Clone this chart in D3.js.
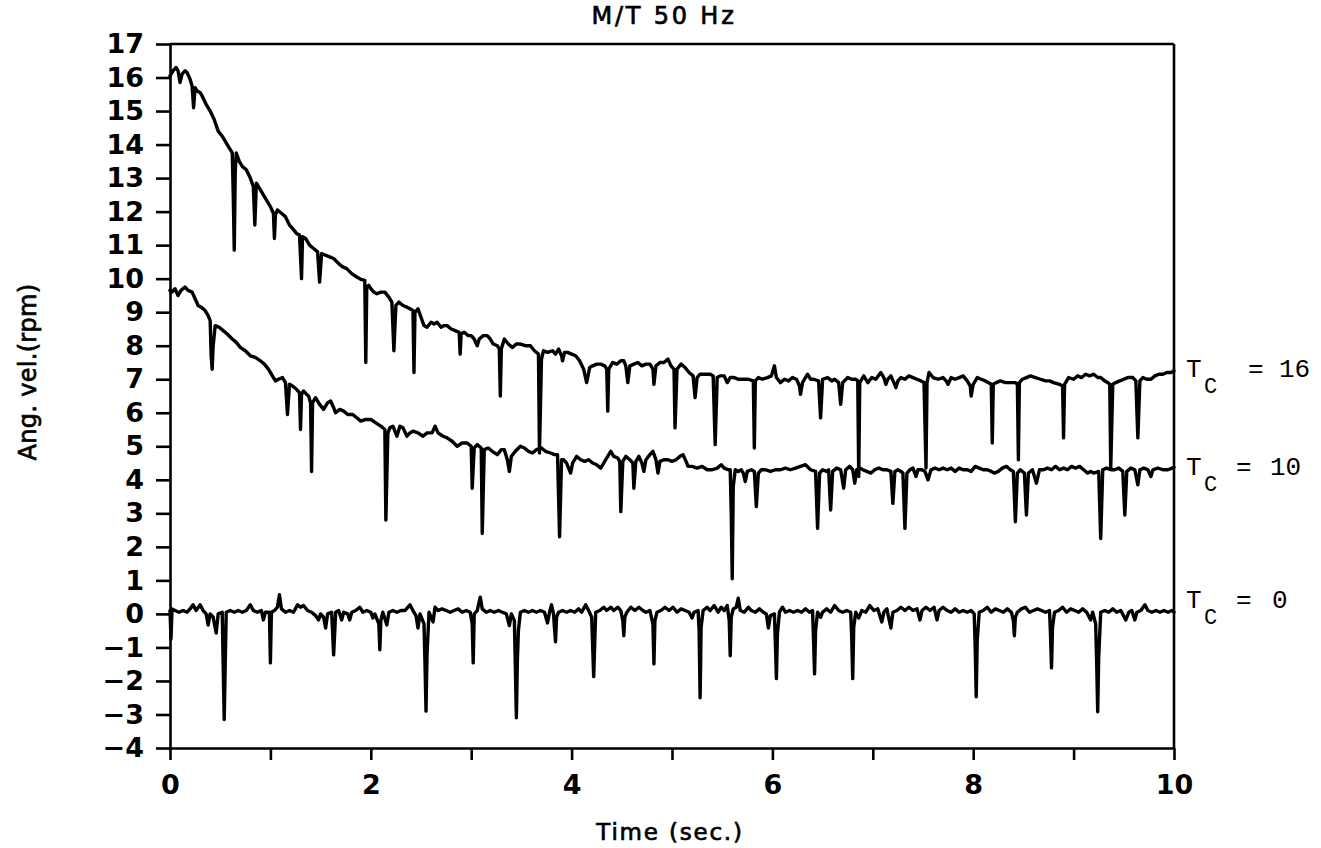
<!DOCTYPE html>
<html>
<head>
<meta charset="utf-8">
<script src="https://cdn.jsdelivr.net/npm/d3@7"></script>
<style>
  html, body { margin: 0; padding: 0; background: #fff; }
  svg { display: block; }
  .lbl { font-family: "DejaVu Sans", sans-serif; fill: #000; stroke: #000; stroke-width: 0.7px; }
  .tc { font-family: "Liberation Mono", "Courier New", monospace; fill: #000; }
</style>
</head>
<body>
<svg id="chart" width="1321" height="848"></svg>
<script>
// Angular velocity traces (rpm) against time (s) for three coupling torques
const seriesNames = ["Tc = 16", "Tc = 10", "Tc = 0"];

const tc16 = [
  [0.00,16.05],[0.03,16.2],[0.06,16.3],[0.08,16.2],[0.10,15.85],[0.12,16.1],[0.15,16.2],[0.17,16.15],[0.20,15.95],[0.22,15.75],
  [0.235,15.1],[0.25,15.7],[0.27,15.6],[0.30,15.55],[0.32,15.45],[0.36,15.2],[0.40,15.0],[0.44,14.75],[0.48,14.4],[0.52,14.25],
  [0.57,14.0],[0.62,13.75],[0.63,12.5],[0.64,10.85],[0.65,13.2],[0.66,13.75],[0.69,13.5],[0.72,13.35],[0.76,13.25],[0.80,13.0],
  [0.83,12.75],[0.845,11.6],[0.86,12.85],[0.89,12.7],[0.93,12.5],[0.97,12.3],[1.00,12.15],[1.03,11.95],[1.04,11.2],[1.05,11.9],
  [1.07,12.05],[1.11,11.95],[1.15,11.85],[1.19,11.6],[1.22,11.5],[1.26,11.35],[1.29,11.3],[1.31,10.0],[1.32,11.25],[1.35,11.2],
  [1.39,11.0],[1.43,10.9],[1.47,10.8],[1.49,9.9],[1.51,10.75],[1.55,10.7],[1.59,10.65],[1.63,10.6],[1.68,10.45],[1.72,10.35],
  [1.76,10.3],[1.81,10.15],[1.86,10.05],[1.90,9.98],[1.94,9.95],[1.95,7.5],[1.96,9.75],[1.98,9.8],[2.00,9.7],[2.03,9.6],
  [2.06,9.55],[2.10,9.6],[2.14,9.6],[2.18,9.45],[2.21,9.3],[2.23,7.85],[2.25,9.2],[2.28,9.3],[2.32,9.2],[2.36,9.15],
  [2.39,9.1],[2.42,9.05],[2.43,7.2],[2.44,9.0],[2.47,9.1],[2.50,8.85],[2.53,8.6],[2.56,8.55],[2.60,8.7],[2.63,8.65],
  [2.66,8.7],[2.70,8.55],[2.73,8.6],[2.76,8.6],[2.80,8.5],[2.84,8.45],[2.88,8.4],[2.89,7.75],[2.90,8.35],[2.93,8.4],
  [2.97,8.3],[3.00,8.3],[3.03,8.2],[3.06,8.0],[3.08,8.2],[3.12,8.3],[3.16,8.3],[3.19,8.2],[3.22,8.05],[3.26,8.0],
  [3.28,7.9],[3.29,6.5],[3.30,7.9],[3.33,8.2],[3.37,8.05],[3.41,7.95],[3.45,8.05],[3.49,8.05],[3.54,8.0],[3.59,8.0],
  [3.63,7.85],[3.67,7.75],[3.68,4.8],[3.70,7.6],[3.72,7.85],[3.76,7.8],[3.81,7.85],[3.84,7.75],[3.87,7.9],[3.90,7.7],
  [3.91,7.55],[3.93,7.8],[3.96,7.8],[4.00,7.75],[4.04,7.7],[4.08,7.55],[4.12,7.3],[4.15,6.9],[4.18,7.35],[4.21,7.4],
  [4.25,7.45],[4.29,7.45],[4.33,7.4],[4.35,7.3],[4.36,6.05],[4.37,7.3],[4.41,7.5],[4.45,7.45],[4.49,7.55],[4.52,7.55],
  [4.54,7.4],[4.56,6.9],[4.58,7.4],[4.62,7.45],[4.66,7.5],[4.70,7.4],[4.74,7.45],[4.78,7.45],[4.81,7.3],[4.82,6.85],
  [4.84,7.4],[4.88,7.5],[4.92,7.5],[4.96,7.6],[4.99,7.4],[5.02,7.3],[5.03,5.55],[5.05,7.3],[5.09,7.45],[5.13,7.35],
  [5.17,7.2],[5.21,7.1],[5.23,6.45],[5.25,7.05],[5.28,7.15],[5.33,7.15],[5.38,7.15],[5.41,7.1],[5.43,5.05],[5.45,7.05],
  [5.48,7.1],[5.52,7.1],[5.55,6.9],[5.58,7.05],[5.62,7.05],[5.66,7.0],[5.71,7.0],[5.76,7.0],[5.81,6.95],[5.82,4.95],
  [5.83,6.95],[5.86,7.05],[5.90,7.0],[5.95,7.05],[5.99,7.1],[6.02,7.4],[6.04,7.05],[6.08,6.9],[6.12,7.0],[6.16,6.95],
  [6.20,7.05],[6.24,7.0],[6.27,6.8],[6.28,6.55],[6.30,6.9],[6.35,7.15],[6.38,7.0],[6.41,7.0],[6.46,6.95],[6.48,5.85],
  [6.50,7.0],[6.55,7.05],[6.59,6.95],[6.62,7.0],[6.66,6.9],[6.68,6.25],[6.70,6.9],[6.75,7.05],[6.79,7.0],[6.83,7.0],
  [6.85,6.95],[6.86,4.1],[6.87,6.9],[6.91,7.1],[6.95,6.9],[6.99,7.05],[7.03,7.0],[7.08,7.2],[7.11,7.05],[7.13,6.85],
  [7.15,7.0],[7.18,7.1],[7.21,6.9],[7.23,6.75],[7.25,6.95],[7.28,7.05],[7.32,7.0],[7.36,7.1],[7.40,7.05],[7.44,7.0],
  [7.48,6.95],[7.51,6.9],[7.53,4.35],[7.54,6.9],[7.56,7.2],[7.60,7.05],[7.65,7.0],[7.70,7.05],[7.73,6.95],[7.75,6.85],
  [7.78,7.05],[7.82,7.0],[7.86,7.05],[7.90,7.1],[7.94,6.95],[7.97,6.8],[7.98,6.5],[8.00,6.85],[8.04,7.05],[8.08,7.0],
  [8.12,6.95],[8.15,6.9],[8.18,6.85],[8.19,5.1],[8.20,6.85],[8.23,6.9],[8.27,6.95],[8.32,6.9],[8.37,6.9],[8.42,6.9],
  [8.44,6.85],[8.45,4.6],[8.46,6.9],[8.49,7.0],[8.53,7.05],[8.57,7.1],[8.62,7.05],[8.67,7.0],[8.72,6.95],[8.76,6.95],
  [8.80,6.9],[8.86,6.85],[8.89,6.8],[8.90,5.25],[8.91,6.85],[8.95,7.05],[9.00,7.0],[9.04,7.1],[9.08,7.05],[9.12,7.15],
  [9.16,7.1],[9.20,7.15],[9.24,7.05],[9.27,7.05],[9.31,6.95],[9.34,6.9],[9.36,6.85],[9.37,4.35],[9.39,6.85],[9.42,6.9],
  [9.46,6.95],[9.50,7.0],[9.54,7.05],[9.59,7.05],[9.62,6.95],[9.64,5.25],[9.66,6.95],[9.69,7.05],[9.73,7.0],[9.77,7.0],
  [9.81,7.1],[9.85,7.15],[9.89,7.15],[9.93,7.2],[9.97,7.2],[10.0,7.25]
];

const tc10 = [
  [0.00,9.65],[0.02,9.6],[0.05,9.7],[0.08,9.5],[0.11,9.65],[0.15,9.75],[0.18,9.65],[0.22,9.6],[0.25,9.4],[0.28,9.2],
  [0.31,9.15],[0.35,9.05],[0.38,8.9],[0.40,8.75],[0.41,7.7],[0.42,7.3],[0.43,8.0],[0.45,8.6],[0.49,8.55],[0.53,8.45],
  [0.57,8.35],[0.62,8.2],[0.66,8.1],[0.70,7.95],[0.75,7.85],[0.80,7.7],[0.85,7.65],[0.90,7.55],[0.94,7.45],[0.98,7.3],
  [1.02,7.1],[1.05,6.95],[1.08,7.0],[1.12,7.05],[1.15,6.9],[1.17,5.95],[1.19,6.85],[1.22,6.8],[1.26,6.7],[1.29,6.6],
  [1.30,5.5],[1.31,6.55],[1.33,6.65],[1.36,6.55],[1.38,6.5],[1.40,6.3],[1.41,4.25],[1.42,6.3],[1.45,6.45],[1.49,6.25],
  [1.53,6.1],[1.57,6.3],[1.60,6.35],[1.63,6.15],[1.65,6.0],[1.69,6.1],[1.73,6.05],[1.77,5.95],[1.82,5.95],[1.86,5.85],
  [1.90,5.75],[1.95,5.8],[2.00,5.8],[2.05,5.7],[2.10,5.6],[2.14,5.5],[2.15,2.8],[2.17,5.4],[2.19,5.55],[2.22,5.6],
  [2.26,5.3],[2.29,5.6],[2.32,5.55],[2.36,5.3],[2.39,5.4],[2.42,5.45],[2.47,5.4],[2.52,5.3],[2.56,5.4],[2.61,5.4],
  [2.64,5.6],[2.67,5.4],[2.72,5.3],[2.76,5.25],[2.81,5.15],[2.86,5.0],[2.91,5.1],[2.96,5.1],[3.00,5.0],[3.01,3.75],
  [3.03,4.95],[3.06,5.05],[3.10,4.95],[3.11,2.4],[3.13,4.9],[3.17,4.95],[3.21,4.85],[3.26,4.75],[3.30,4.9],[3.33,4.9],
  [3.36,4.6],[3.38,4.25],[3.40,4.7],[3.44,4.85],[3.49,5.0],[3.53,4.95],[3.57,4.85],[3.61,4.8],[3.65,4.9],[3.70,4.95],
  [3.74,4.85],[3.79,4.8],[3.83,4.75],[3.86,4.75],[3.88,2.3],[3.90,4.6],[3.92,4.6],[3.95,4.5],[3.97,4.35],[3.99,4.2],
  [4.01,4.5],[4.05,4.7],[4.09,4.6],[4.13,4.55],[4.17,4.6],[4.21,4.5],[4.25,4.45],[4.29,4.35],[4.33,4.55],[4.37,4.75],
  [4.39,4.85],[4.42,4.7],[4.46,4.65],[4.48,4.55],[4.49,3.05],[4.51,4.55],[4.54,4.7],[4.58,4.6],[4.61,4.5],[4.62,3.75],
  [4.64,4.55],[4.67,4.7],[4.70,4.5],[4.72,4.25],[4.74,4.6],[4.78,4.75],[4.81,4.85],[4.84,4.6],[4.86,4.2],[4.88,4.55],
  [4.92,4.6],[4.96,4.6],[5.00,4.55],[5.04,4.6],[5.08,4.7],[5.11,4.75],[5.14,4.55],[5.16,4.4],[5.20,4.4],[5.25,4.35],
  [5.30,4.4],[5.35,4.3],[5.40,4.3],[5.45,4.35],[5.49,4.45],[5.52,4.35],[5.56,4.3],[5.58,4.3],[5.59,3.0],[5.60,1.05],
  [5.61,3.8],[5.63,4.3],[5.66,4.25],[5.69,4.3],[5.71,4.2],[5.73,3.95],[5.75,4.25],[5.79,4.3],[5.82,4.25],[5.84,3.2],
  [5.86,4.2],[5.89,4.3],[5.93,4.3],[5.98,4.25],[6.03,4.3],[6.08,4.3],[6.13,4.35],[6.18,4.3],[6.23,4.35],[6.28,4.4],
  [6.33,4.45],[6.38,4.3],[6.43,4.25],[6.45,2.55],[6.47,4.2],[6.50,4.3],[6.54,4.25],[6.56,4.3],[6.58,3.1],[6.60,4.25],
  [6.64,4.35],[6.68,4.3],[6.71,3.75],[6.73,4.3],[6.77,4.4],[6.80,4.3],[6.82,3.9],[6.84,4.3],[6.87,4.35],[6.90,4.3],
  [6.94,4.25],[6.98,4.2],[7.02,4.3],[7.06,4.35],[7.10,4.3],[7.14,4.3],[7.18,4.25],[7.20,3.3],[7.22,4.25],[7.25,4.3],
  [7.28,4.25],[7.30,4.2],[7.32,2.55],[7.34,4.2],[7.37,4.3],[7.40,4.35],[7.43,4.1],[7.45,4.3],[7.49,4.3],[7.52,4.25],
  [7.55,4.0],[7.58,4.3],[7.62,4.35],[7.66,4.3],[7.70,4.35],[7.74,4.3],[7.78,4.35],[7.82,4.25],[7.86,4.35],[7.90,4.3],
  [7.94,4.3],[7.98,4.25],[8.02,4.4],[8.06,4.35],[8.10,4.3],[8.14,4.3],[8.18,4.25],[8.21,4.2],[8.25,4.25],[8.29,4.35],
  [8.33,4.4],[8.37,4.3],[8.40,4.25],[8.42,2.75],[8.44,4.2],[8.47,4.3],[8.51,4.2],[8.53,2.95],[8.55,4.2],[8.59,4.3],
  [8.63,3.9],[8.66,4.3],[8.70,4.3],[8.74,4.35],[8.78,4.3],[8.82,4.4],[8.86,4.3],[8.90,4.35],[8.94,4.3],[8.98,4.4],
  [9.02,4.35],[9.06,4.4],[9.10,4.3],[9.14,4.2],[9.17,4.25],[9.20,4.2],[9.25,4.25],[9.27,2.25],[9.29,4.3],[9.33,4.35],
  [9.37,4.3],[9.41,4.3],[9.45,4.35],[9.49,4.25],[9.51,2.95],[9.53,4.25],[9.57,4.35],[9.61,4.3],[9.64,3.85],[9.66,4.3],
  [9.70,4.35],[9.74,4.3],[9.77,4.1],[9.79,4.3],[9.84,4.35],[9.89,4.3],[9.94,4.3],[10.0,4.37]
];

const tc0 = [
  [0.00,0.1],[0.01,-0.75],[0.02,0.15],[0.05,0.1],[0.09,0.05],[0.13,0.1],[0.17,0.05],[0.20,0.15],[0.23,0.27],[0.26,0.1],
  [0.30,0.27],[0.33,0.1],[0.36,0.0],[0.38,-0.33],[0.40,0.0],[0.43,-0.1],[0.46,-0.57],[0.48,0.0],[0.52,0.05],[0.53,-1.6],
  [0.54,-3.15],[0.55,-1.5],[0.56,0.05],[0.60,0.1],[0.64,0.05],[0.68,0.1],[0.72,0.05],[0.76,0.1],[0.80,0.27],[0.83,0.1],
  [0.87,0.05],[0.91,0.1],[0.93,-0.18],[0.95,0.05],[0.99,0.05],[1.00,-1.46],[1.01,0.05],[1.04,0.1],[1.07,0.2],[1.09,0.57],
  [1.11,0.15],[1.15,0.05],[1.19,0.1],[1.23,0.05],[1.27,0.27],[1.30,0.2],[1.33,0.25],[1.37,0.1],[1.41,0.05],[1.45,-0.05],
  [1.48,-0.18],[1.50,0.0],[1.53,-0.1],[1.55,-0.42],[1.57,0.0],[1.61,0.05],[1.63,-1.22],[1.65,0.05],[1.68,0.1],[1.71,-0.18],
  [1.73,0.05],[1.77,0.0],[1.79,-0.18],[1.81,0.05],[1.85,0.1],[1.89,0.2],[1.92,0.05],[1.96,0.1],[2.00,0.05],[2.02,-0.12],
  [2.04,0.0],[2.08,-0.3],[2.09,-1.07],[2.10,-0.2],[2.12,0.05],[2.16,-0.33],[2.18,0.05],[2.22,0.1],[2.26,0.05],[2.30,0.1],
  [2.34,0.1],[2.39,0.27],[2.42,0.1],[2.45,-0.05],[2.47,-0.42],[2.49,0.0],[2.53,-0.3],[2.54,-1.5],[2.55,-2.9],[2.56,-1.2],
  [2.58,0.05],[2.62,-0.24],[2.64,0.2],[2.67,0.1],[2.71,0.15],[2.75,0.1],[2.79,0.05],[2.83,0.1],[2.87,0.15],[2.91,0.05],
  [2.95,0.1],[2.99,0.05],[3.01,-0.3],[3.02,-1.46],[3.03,0.0],[3.06,0.1],[3.09,0.5],[3.11,0.15],[3.15,0.05],[3.19,0.1],
  [3.23,0.05],[3.27,0.1],[3.31,0.05],[3.35,0.0],[3.38,-0.35],[3.40,0.0],[3.43,-0.2],[3.44,-1.6],[3.45,-3.1],[3.46,-1.4],
  [3.47,-0.5],[3.49,0.05],[3.53,0.1],[3.57,0.05],[3.61,0.1],[3.65,0.05],[3.69,0.1],[3.73,0.05],[3.76,-0.27],[3.78,0.05],
  [3.80,0.27],[3.82,0.0],[3.83,-0.45],[3.84,-0.83],[3.85,-0.1],[3.87,0.05],[3.91,0.1],[3.95,0.05],[3.99,0.1],[4.03,0.05],
  [4.07,0.15],[4.10,0.05],[4.14,0.27],[4.17,0.1],[4.20,-0.1],[4.21,-1.0],[4.22,-1.87],[4.23,-0.9],[4.24,0.05],[4.28,0.1],
  [4.32,0.2],[4.35,0.1],[4.39,0.2],[4.42,0.1],[4.46,0.2],[4.49,0.1],[4.51,-0.2],[4.52,-0.65],[4.53,-0.1],[4.55,0.05],
  [4.59,0.2],[4.63,0.1],[4.67,0.2],[4.71,0.1],[4.74,0.05],[4.78,0.1],[4.81,-0.3],[4.82,-1.49],[4.83,-0.2],[4.85,0.05],
  [4.89,0.1],[4.93,0.2],[4.97,0.1],[5.01,0.2],[5.05,0.05],[5.09,0.15],[5.13,0.1],[5.17,0.05],[5.20,-0.12],[5.22,0.05],
  [5.26,0.1],[5.27,-0.5],[5.28,-2.5],[5.29,-0.4],[5.31,0.1],[5.35,0.2],[5.38,0.1],[5.42,0.25],[5.46,0.05],[5.49,0.2],
  [5.52,0.1],[5.55,0.25],[5.57,-0.2],[5.58,-1.25],[5.59,-0.1],[5.61,0.15],[5.64,0.2],[5.66,0.47],[5.68,0.1],[5.72,0.05],
  [5.76,0.2],[5.79,0.1],[5.83,0.05],[5.87,0.15],[5.91,0.05],[5.94,0.0],[5.96,-0.42],[5.98,-0.05],[6.02,0.0],[6.03,-0.9],
  [6.04,-1.93],[6.05,-0.6],[6.07,0.05],[6.10,0.2],[6.13,0.05],[6.17,0.1],[6.21,0.05],[6.25,0.1],[6.29,0.05],[6.33,0.15],
  [6.37,0.05],[6.40,0.1],[6.41,-0.8],[6.42,-1.79],[6.43,-0.5],[6.45,0.05],[6.48,-0.1],[6.50,0.05],[6.54,0.15],[6.58,0.05],
  [6.62,0.25],[6.66,0.1],[6.70,0.05],[6.74,0.1],[6.78,0.05],[6.79,-0.7],[6.80,-1.93],[6.81,-0.4],[6.83,0.05],[6.86,-0.12],
  [6.89,0.1],[6.93,0.05],[6.97,0.25],[7.01,0.1],[7.05,0.15],[7.09,-0.24],[7.11,0.05],[7.14,0.15],[7.18,-0.42],[7.20,0.05],
  [7.24,0.1],[7.28,0.2],[7.32,0.1],[7.36,0.2],[7.40,0.1],[7.44,0.15],[7.47,-0.18],[7.49,0.1],[7.53,0.2],[7.57,0.1],
  [7.61,0.2],[7.64,-0.18],[7.66,0.1],[7.70,0.2],[7.74,0.1],[7.78,0.05],[7.82,0.15],[7.86,0.05],[7.90,0.1],[7.94,0.05],
  [7.98,0.1],[8.01,0.0],[8.02,-1.0],[8.03,-2.47],[8.04,-0.8],[8.06,0.05],[8.10,0.1],[8.14,0.2],[8.18,0.05],[8.22,0.15],
  [8.26,0.1],[8.30,0.05],[8.34,0.15],[8.38,0.05],[8.40,-0.2],[8.41,-0.65],[8.42,-0.1],[8.44,0.05],[8.48,0.15],[8.52,0.2],
  [8.56,0.05],[8.60,0.1],[8.64,0.15],[8.68,0.1],[8.72,0.05],[8.76,0.1],[8.77,-0.6],[8.78,-1.61],[8.79,-0.4],[8.81,0.05],
  [8.85,0.1],[8.89,0.2],[8.93,0.05],[8.97,0.15],[9.01,0.1],[9.05,0.05],[9.09,0.15],[9.13,0.05],[9.17,-0.18],[9.19,0.05],
  [9.22,-0.3],[9.23,-1.5],[9.24,-2.92],[9.25,-1.3],[9.27,0.05],[9.31,0.1],[9.35,0.05],[9.39,0.15],[9.43,0.05],[9.47,0.1],
  [9.52,-0.18],[9.55,0.05],[9.58,0.1],[9.61,-0.18],[9.63,0.05],[9.67,0.1],[9.71,0.27],[9.74,0.1],[9.78,0.05],[9.82,0.1],
  [9.86,0.05],[9.90,0.1],[9.94,0.05],[9.98,0.1],[10.0,0.05]
];

// Axis ticks
const xTickValues = [0,1,2,3,4,5,6,7,8,9,10];
const xTickLabels = ["0","","2","","4","","6","","8","","10"];
const yTickValues = [-4,-3,-2,-1,0,1,2,3,4,5,6,7,8,9,10,11,12,13,14,15,16,17];

// Right-hand labels: subscripted coupling values, placed at these levels
const tcValues = ["16", "10", "0"];
const tcLabelAt = [7.07, 4.14, 0.18];

const titleText = "M/T 50 Hz";
const xTitle = "Time (sec.)";
const yTitle = "Ang. vel.(rpm)";

const svg = d3.select("#chart");
const x = d3.scaleLinear().domain([0, 10]).range([170, 1174]);
const y = d3.scaleLinear().domain([-4, 17]).range([748, 44]);

const axisStroke = 2.6;

// Frame: top and right edges
svg.append("line").attr("x1", x(0)).attr("x2", x(10)).attr("y1", y(17)).attr("y2", y(17))
  .attr("stroke", "#000").attr("stroke-width", axisStroke);
svg.append("line").attr("x1", x(10)).attr("x2", x(10)).attr("y1", y(17)).attr("y2", y(-4))
  .attr("stroke", "#000").attr("stroke-width", axisStroke);

const minus = d => d < 0 ? "\u2212" + Math.abs(d) : String(d);

const gy = svg.append("g").attr("transform", `translate(${x(0)},0)`)
  .call(d3.axisLeft(y).tickValues(yTickValues).tickSize(14).tickSizeOuter(0).tickPadding(12).tickFormat(minus));
const gx = svg.append("g").attr("transform", `translate(0,${y(-4)})`)
  .call(d3.axisBottom(x).tickValues(xTickValues).tickSize(12).tickSizeOuter(0).tickPadding(15)
    .tickFormat((d, i) => xTickLabels[i]));

[gx, gy].forEach(g => {
  g.attr("font-family", "DejaVu Sans, sans-serif").attr("font-size", 27).attr("font-weight", "bold");
  g.select(".domain").attr("stroke", "#000").attr("stroke-width", axisStroke);
  g.selectAll(".tick line").attr("stroke", "#000").attr("stroke-width", axisStroke);
  g.selectAll(".tick text").attr("fill", "#000");
});

// Traces
const line = d3.line().x(d => x(d[0])).y(d => y(d[1]));
[tc16, tc10, tc0].forEach(s => {
  svg.append("path").datum(s).attr("d", line)
    .attr("fill", "none").attr("stroke", "#000").attr("stroke-width", 3.4)
    .attr("stroke-linejoin", "round").attr("stroke-linecap", "round");
});

// Titles
svg.append("text").attr("class", "lbl").attr("x", 664).attr("y", 24)
  .attr("text-anchor", "middle").attr("font-size", 24).attr("letter-spacing", 2.8).text(titleText);
svg.append("text").attr("class", "lbl").attr("x", 670).attr("y", 840)
  .attr("text-anchor", "middle").attr("font-size", 23).attr("letter-spacing", 1.8).text(xTitle);
svg.append("text").attr("class", "lbl")
  .attr("transform", `translate(36,372) rotate(-90)`)
  .attr("text-anchor", "middle").attr("font-size", 24).attr("letter-spacing", 0.3).text(yTitle);

// Coupling labels at the right edge
const eqOffset = [62, 50, 50];
const valOffset = [93, 84, 86];
tcValues.forEach((v, i) => {
  const yy = y(tcLabelAt[i]);
  const g = svg.append("g").attr("class", "tc");
  g.append("text").attr("x", 1186).attr("y", yy).attr("font-size", 26).text("T");
  g.append("text").attr("x", 1204).attr("y", yy + 16).attr("font-size", 22).text("C");
  g.append("text").attr("x", 1186 + eqOffset[i]).attr("y", yy).attr("font-size", 26).text("=");
  g.append("text").attr("x", 1186 + valOffset[i]).attr("y", yy).attr("font-size", 26).text(v);
});
</script>
</body>
</html>
